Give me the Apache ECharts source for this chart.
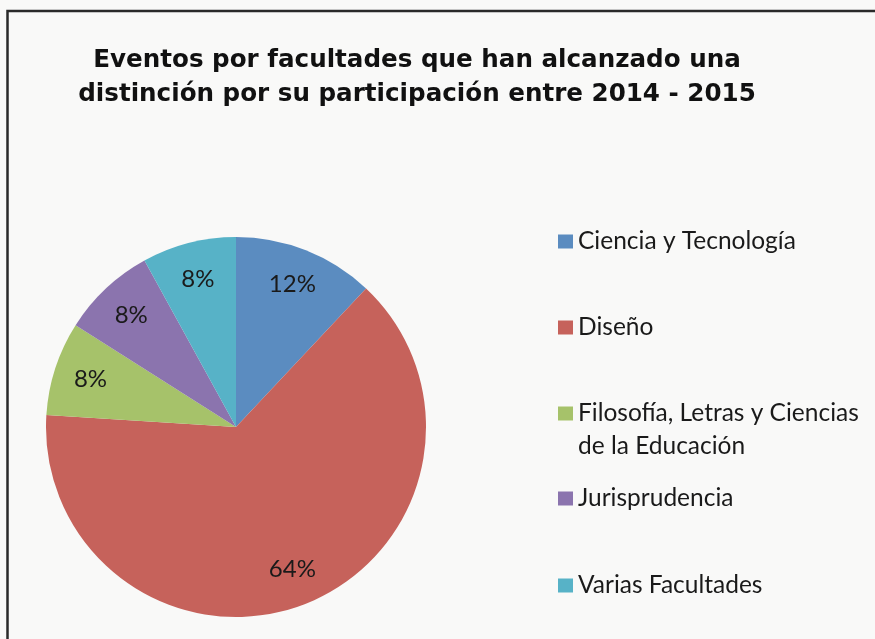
<!DOCTYPE html>
<html>
<head>
<meta charset="utf-8">
<script src="https://cdn.jsdelivr.net/npm/echarts@6/dist/echarts.min.js"></script>
<style>
  html, body { margin: 0; padding: 0; background: #f9f9f8; }
  #chart { width: 875px; height: 639px; }
</style>
</head>
<body>
<div id="chart"></div>
<script>
// facultades y su porcentaje de eventos con distinción
const facultades = ['Ciencia y Tecnología', 'Diseño', 'Filosofía, Letras y Ciencias de la Educación', 'Jurisprudencia', 'Varias Facultades'];
const porcentajes = [12, 64, 8, 8, 8];
const colores = ['#5b8cc0', '#c6625b', '#a6c26a', '#8b74ae', '#57b2c7'];

const legendFont = 'Lato, "Noto Sans", sans-serif';
const legendTops = [225, 311, 364, 482, 569];

const chart = echarts.init(document.getElementById('chart'));

const pieData = facultades.map((name, i) => ({ name: name, value: porcentajes[i] }));

// una leyenda por elemento, para controlar la separación
const legends = facultades.map((name, i) => ({
    data: [name],
    left: 558,
    top: legendTops[i],
    orient: 'vertical',
    padding: 0,
    icon: 'rect',
    itemWidth: 15,
    itemHeight: 14,
    selectedMode: false,
    formatter: function (n) {
        if (n.indexOf('Filosofía') === 0) {
            return '\nFilosofía, Letras y Ciencias\nde la Educación';
        }
        return n;
    },
    textStyle: {
        fontFamily: legendFont,
        fontSize: 24.5,
        lineHeight: 33,
        color: '#1a1a1a'
    }
}));

const option = {
    backgroundColor: '#f9f9f8',
    color: colores,
    animation: false,
    title: {
        text: 'Eventos por facultades que han alcanzado una\ndistinción por su participación entre 2014 - 2015',
        left: 412,
        top: 39,
        textAlign: 'center',
        textStyle: {
            fontFamily: '"DejaVu Sans", sans-serif',
            fontWeight: 'bold',
            fontSize: 24.6,
            lineHeight: 34,
            color: '#111'
        }
    },
    legend: legends,
    graphic: [{
        type: 'rect',
        shape: { x: 7.5, y: 11, width: 1000, height: 1000 },
        style: { fill: 'none', stroke: '#2a2a2a', lineWidth: 2.5 },
        silent: true
    }],
    series: [
        {
            type: 'pie',
            center: [236, 427],
            radius: 190,
            startAngle: 90,
            clockwise: true,
            label: { show: false },
            labelLine: { show: false },
            itemStyle: { borderWidth: 0 },
            data: pieData
        },
        {
            // serie transparente solo para colocar las etiquetas
            type: 'pie',
            center: [236, 427],
            radius: [110, 190],
            startAngle: 90,
            clockwise: true,
            silent: true,
            legendHoverLink: false,
            itemStyle: { color: 'rgba(0,0,0,0)', borderWidth: 0 },
            label: {
                show: true,
                position: 'inside',
                formatter: '{c}%',
                fontFamily: legendFont,
                fontSize: 24,
                color: '#1a1a1a'
            },
            labelLine: { show: false },
            data: pieData
        }
    ]
};

chart.setOption(option);
</script>
</body>
</html>
